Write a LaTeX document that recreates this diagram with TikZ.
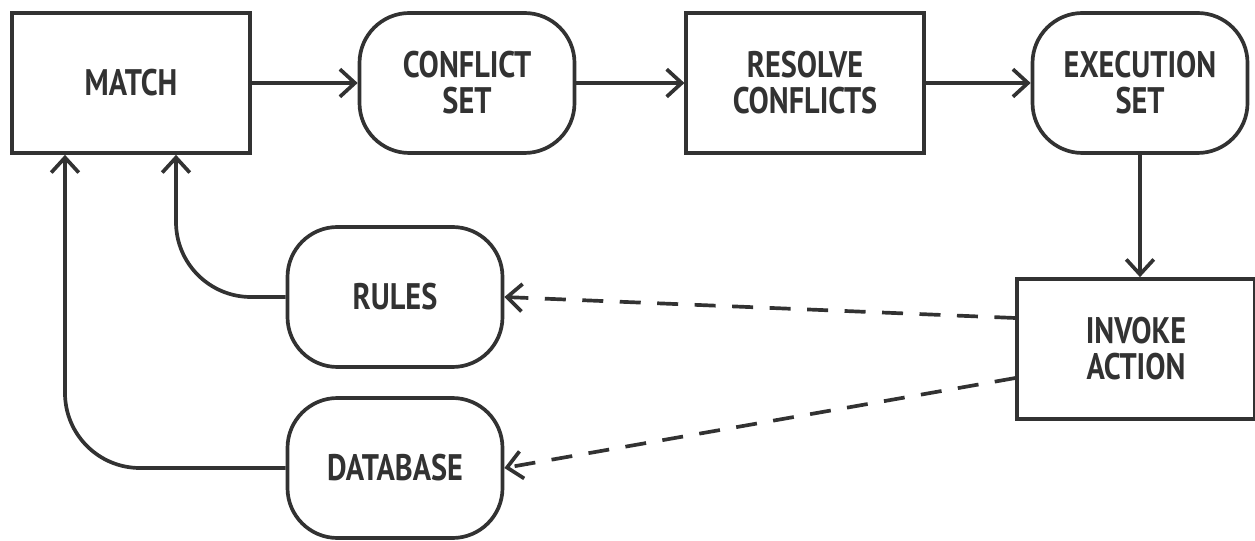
\documentclass[tikz,border=0pt]{standalone}
\usepackage{fontspec}
\setmainfont{PT Sans}[FakeStretch=0.82]
\usetikzlibrary{arrows.meta}
\definecolor{ink}{RGB}{50,50,50}

\begin{document}
\begin{tikzpicture}[x=0.2mm,y=-0.2mm,line width=2.1pt,draw=ink,
  every node/.style={text=ink,align=center,font=\fontsize{21}{20.5}\selectfont\bfseries},
  sqbox/.style={draw,rectangle,minimum width=4.75cm,minimum height=2.8cm},
  rbox/.style={draw,rectangle,rounded corners=1cm,minimum width=4.3cm,minimum height=2.8cm},
  arr/.style={-{Straight Barb[length=3mm,width=5.5mm]}},
  dasharr/.style={arr,dash pattern=on 4.2mm off 3.3mm}]

\useasboundingbox (0,0) rectangle (1255,541);

\node[sqbox] (match) at (131,83) {MATCH};

\node[rbox] (conflict) at (467,83) {CONFLICT\\SET};

\node[sqbox] (resolve) at (805,83) {RESOLVE\\CONFLICTS};

\node[rbox] (exec) at (1140,83) {EXECUTION\\SET};

\node[sqbox] (invoke) at (1136,349) {INVOKE\\ACTION};

\node[rbox] (rules) at (395,297) {RULES};

\node[rbox] (database) at (395,468) {DATABASE};

\draw[arr] (match) -- (conflict);
\draw[arr] (conflict) -- (resolve);
\draw[arr] (resolve) -- (exec);
\draw[arr] (exec.south) -- (invoke.north -| exec.south);

\draw[dasharr] ([yshift=0.62cm]invoke.west) -- (rules.east);
\draw[dasharr] ([yshift=-0.58cm]invoke.west) -- (database.east);

\draw[arr,rounded corners=1.5cm] (rules.west) -| ([xshift=0.9cm]match.south);
\draw[arr,rounded corners=1.5cm] (database.west) -| ([xshift=-1.32cm]match.south);

\end{tikzpicture}
\end{document}
